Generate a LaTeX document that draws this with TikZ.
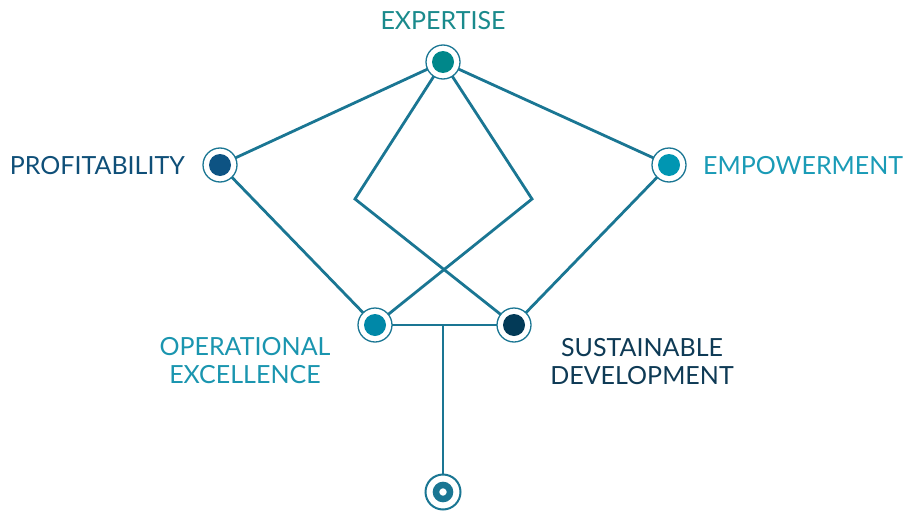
\documentclass[tikz,border=0pt]{standalone}
\usepackage{fontspec}
\setmainfont{Lato}
\definecolor{linec}{HTML}{1A7693}
\definecolor{cexp}{HTML}{00878A}
\definecolor{cprof}{HTML}{0D5383}
\definecolor{cemp}{HTML}{0096B2}
\definecolor{cop}{HTML}{0088A8}
\definecolor{csus}{HTML}{033A57}
\definecolor{texp}{HTML}{1A8A8C}
\definecolor{tprof}{HTML}{0F4F78}
\definecolor{temp}{HTML}{1A9BB6}
\definecolor{top}{HTML}{1A95AF}
\definecolor{tsus}{HTML}{0E3A55}
\tikzset{
  conn/.style={draw=linec, line width=2.8pt},
  ring/.style={circle, draw=linec, line width=1.3pt, fill=white, minimum size=34pt, inner sep=0pt},
  dotf/.style={circle, fill=#1, minimum size=22pt, inner sep=0pt},
  lbl/.style={font=\fontsize{25}{28}\selectfont, inner sep=0pt, align=center}
}
\begin{document}
\begin{tikzpicture}[x=1pt,y=-1pt]
\useasboundingbox (0,0) rectangle (905,514);
% coordinates
\coordinate (E) at (443,62);
\coordinate (P) at (220,165);
\coordinate (M) at (669,165);
\coordinate (O) at (375,325);
\coordinate (S) at (514,325);
\coordinate (B) at (443,492);
\coordinate (bl) at (355,199);
\coordinate (br) at (532,199);
\coordinate (j) at (443,325);
% connectors
\draw[conn] (E) -- (P);
\draw[conn] (E) -- (M);
\draw[conn] (P) -- (O);
\draw[conn] (M) -- (S);
\draw[conn, line join=miter] (E) -- (bl) -- (S);
\draw[conn, line join=miter] (E) -- (br) -- (O);
\draw[conn] (O) -- (S);
\draw[conn] (j) -- (B);
% nodes
\node[ring] (nE) at (E) {};
\node[dotf=cexp] at (E) {};
\node[ring] (nP) at (P) {};
\node[dotf=cprof] at (P) {};
\node[ring] (nM) at (M) {};
\node[dotf=cemp] at (M) {};
\node[ring] (nO) at (O) {};
\node[dotf=cop] at (O) {};
\node[ring] (nS) at (S) {};
\node[dotf=csus] at (S) {};
% bottom node
\node[circle, draw=linec, line width=2pt, fill=white, minimum size=35pt, inner sep=0pt] (nB) at (B) {};
\node[circle, draw=linec, line width=6.5pt, fill=white, minimum size=14pt, inner sep=0pt] (nB2) at (B) {};
% labels
\node[lbl, text=texp] (tE) at (443,21) {EXPERTISE};
\node[lbl, text=tprof, anchor=east] (tP) at (185,166) {PROFITABILITY};
\node[lbl, text=temp, anchor=west] (tM) at (703,166) {EMPOWERMENT};
\node[lbl, text=top] (tO) at (245,361) {OPERATIONAL\\EXCELLENCE};
\node[lbl, text=tsus] (tS) at (642,362) {SUSTAINABLE\\DEVELOPMENT};
\end{tikzpicture}
\end{document}
